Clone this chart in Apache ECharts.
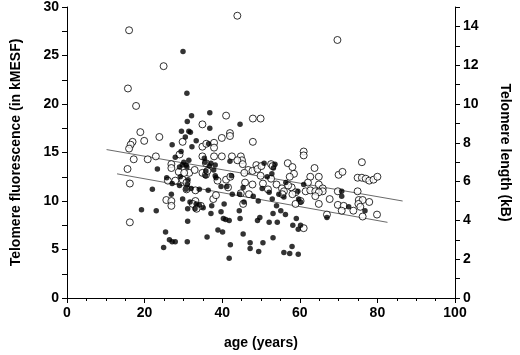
<!DOCTYPE html>
<html>
<head>
<meta charset="utf-8">
<script src="https://cdn.jsdelivr.net/npm/echarts@6/dist/echarts.min.js"></script>
<style>
  html, body { margin: 0; padding: 0; background: #fff; }
  #main { width: 520px; height: 355px; }
</style>
</head>
<body>
<div id="main"></div>
<script>
    // open circles: age (years) / telomere fluorescence (kMESF)
    var openAge = [16.0, 24.9, 15.7, 17.8, 43.9, 69.7, 18.9, 19.9, 23.8, 16.9, 16.4, 16.0,
        34.9, 41.0, 47.9, 49.9, 42.0, 42.0, 39.9, 47.9, 29.8, 34.9, 37.9, 37.9, 35.9,
        17.2, 20.8, 22.9, 15.6, 16.2, 16.2, 26.9, 26.9, 29.0, 28.8, 31.5, 32.9, 27.9,
        29.8, 26.0, 30.8, 33.1, 30.2, 30.8, 34.9, 35.8, 39.9, 37.9,
        44.8, 45.1, 43.9, 45.3, 42.5, 46.7, 47.8, 45.7, 34.9, 35.8, 36.2, 41.0, 42.1,
        38.8, 41.5, 44.8, 46.9, 45.4, 37.7, 38.4, 33.1, 32.4, 34.5, 33.4, 25.6, 26.9, 26.9,
        61.0, 61.0, 48.8, 52.6, 56.9, 58.1, 49.1, 53.0, 49.9, 52.6, 58.5, 57.4, 62.7, 62.1,
        45.9, 54.0, 55.4, 57.9, 55.9, 58.9, 61.5, 51.8, 76.0, 63.8, 70.0, 71.0, 64.9,
        74.9, 76.0, 77.0, 77.9, 79.0, 80.0, 64.9, 65.9, 65.9, 69.8, 74.9, 50.1, 47.8, 50.5,
        57.0, 62.7, 64.0, 64.9, 67.7, 69.8, 71.3, 70.8, 73.8, 75.2, 76.2, 75.1, 75.6, 77.9,
        76.2, 79.9, 60.2, 58.9, 61.0, 67.0, 64.0, 64.9, 58.1, 55.5];
    var openVal = [27.6, 23.9, 21.6, 19.8, 29.1, 26.6, 17.1, 16.2, 16.6, 16.1, 15.8, 15.4,
        17.9, 18.8, 18.5, 18.5, 17.0, 16.7, 16.5, 16.1, 16.1, 15.6, 16.0, 15.5, 15.9,
        14.3, 14.3, 14.6, 13.3, 11.8, 7.8, 13.8, 13.4, 14.8, 13.0, 12.9, 13.2, 12.1,
        12.2, 12.1, 11.9, 11.1, 12.9, 11.2, 14.6, 13.9, 14.6, 14.6,
        14.6, 14.2, 14.2, 13.8, 14.6, 13.2, 13.1, 12.9, 12.9, 12.7, 13.1, 12.2, 12.5,
        12.1, 11.4, 10.8, 10.7, 9.7, 10.2, 10.6, 10.0, 9.7, 9.5, 9.2, 10.1, 10.0, 9.5,
        15.1, 14.7, 13.7, 13.8, 13.9, 13.5, 13.3, 13.6, 12.6, 12.3, 12.8, 12.5, 12.5, 11.9,
        11.9, 11.7, 11.3, 11.4, 11.0, 10.9, 11.0, 11.2, 14.0, 13.4, 12.7, 13.0, 12.5,
        12.4, 12.4, 12.3, 12.1, 12.2, 12.5, 11.7, 11.3, 11.0, 11.0, 11.0, 13.6, 11.7, 11.8,
        11.6, 11.1, 11.0, 10.9, 10.2, 9.6, 9.5, 9.0, 9.0, 10.1, 10.1, 9.7, 9.4, 9.9,
        8.4, 8.6, 10.0, 9.7, 7.2, 8.6, 10.5, 9.7, 10.7, 10.7];

    // filled circles
    var filledAge = [29.9, 30.9, 32.1, 36.8, 31.0, 29.5, 31.4, 31.8, 36.8, 30.5, 33.3, 44.6,
        27.1, 32.2, 36.5, 29.4, 27.9, 31.4, 30.1, 29.7, 30.7, 29.0, 30.9, 23.3, 25.7, 29.2,
        31.2, 27.1, 29.0, 30.7, 22.0, 32.0, 35.6, 37.1, 38.2, 42.0, 36.7, 35.8, 37.8, 38.4,
        42.4, 31.0, 34.1, 36.4, 39.7, 41.2, 42.6, 44.5, 45.4, 48.0, 49.3, 45.6, 19.2, 23.0,
        26.9, 29.8, 31.7, 31.1, 33.0, 34.1, 35.1, 37.3, 40.5, 37.1, 39.7, 40.3, 40.9, 41.8,
        44.4, 44.6, 31.1, 25.4, 26.4, 27.1, 27.9, 24.9, 31.0, 36.1, 38.9, 40.1, 45.4, 42.1,
        41.8, 47.2, 47.2, 49.4, 35.4, 35.7, 38.2, 50.8, 53.6, 53.2, 52.8, 56.4, 51.6, 50.3,
        59.5, 61.0, 70.8, 52.1, 54.6, 55.9, 52.9, 59.7, 60.2, 54.0, 55.1, 56.3, 49.1, 49.7,
        52.1, 54.2, 59.1, 58.2, 60.2, 59.6, 53.1, 50.5, 58.0, 55.9, 57.4, 59.6, 67.0, 70.8,
        72.6, 76.8, 33.3, 53.1];
    var filledVal = [25.4, 21.1, 18.8, 19.1, 18.2, 17.2, 17.2, 17.1, 17.5, 16.6, 16.2, 17.9,
        15.8, 15.6, 15.9, 15.1, 14.5, 14.2, 14.0, 13.7, 13.7, 13.5, 13.5, 13.3, 12.4, 12.5,
        12.2, 11.8, 11.6, 11.2, 11.2, 11.3, 14.0, 13.9, 13.7, 14.1, 13.6, 13.1, 13.2, 12.4,
        12.6, 11.7, 11.2, 11.1, 11.5, 11.5, 10.7, 10.7, 11.4, 10.5, 10.0, 9.9, 9.1, 9.0,
        10.7, 10.2, 9.9, 9.2, 9.2, 9.6, 9.3, 9.5, 9.7, 8.7, 8.9, 8.2, 8.1, 8.0,
        9.0, 8.2, 7.9, 6.8, 6.0, 5.8, 5.8, 5.2, 5.8, 6.3, 7.0, 6.8, 6.6, 5.5,
        4.1, 5.7, 5.1, 4.8, 14.4, 12.6, 12.6, 13.9, 13.8, 13.4, 12.8, 11.9, 12.5, 11.3,
        11.0, 11.7, 11.0, 10.9, 10.7, 10.4, 10.2, 10.2, 9.9, 9.5, 9.0, 8.6, 8.0, 8.3,
        7.8, 7.8, 8.2, 7.5, 7.5, 7.1, 6.2, 5.7, 5.3, 4.7, 4.6, 4.5, 8.3, 10.5,
        9.4, 9.0, 9.7, 8.7];

    // regression lines (end points)
    var upperLine = [[10.2, 15.3], [86.5, 10.0]];
    var lowerLine = [[12.9, 12.8], [82.6, 7.8]];

    function pairs(xs, ys) {
        var out = [];
        for (var i = 0; i < xs.length; i++) {
            out.push([xs[i], ys[i]]);
        }
        return out;
    }

    var labelFont = { color: '#000', fontFamily: 'Liberation Sans', fontWeight: 'bold', fontSize: 14 };
    var axisLine = { show: true, lineStyle: { color: '#000', width: 1 } };

    var option = {
        animation: false,
        backgroundColor: '#fff',
        grid: { left: 67, right: 63, top: 4, bottom: 54 },
        xAxis: {
            type: 'value', min: 0, max: 100, interval: 20,
            name: 'age (years)', nameLocation: 'middle', nameGap: 38,
            nameTextStyle: labelFont,
            axisLine: axisLine,
            axisTick: { show: true, length: 5, lineStyle: { color: '#000' } },
            minorTick: { show: true, splitNumber: 4, length: 3, lineStyle: { color: '#000' } },
            axisLabel: { color: '#000', fontFamily: 'Liberation Sans', fontWeight: 'bold', fontSize: 14, margin: 8 },
            splitLine: { show: false }
        },
        yAxis: [{
            type: 'value', min: 0, max: 30, interval: 5, position: 'left',
            name: 'Telomere fluorescence (in kMESF)', nameLocation: 'middle', nameGap: 44, nameRotate: 90,
            nameTextStyle: labelFont,
            axisLine: axisLine,
            axisTick: { show: true, length: 5, lineStyle: { color: '#000' } },
            minorTick: { show: true, splitNumber: 2, length: 5, lineStyle: { color: '#000' } },
            axisLabel: { color: '#000', fontFamily: 'Liberation Sans', fontWeight: 'bold', fontSize: 14, margin: 8 },
            splitLine: { show: false }
        }, {
            type: 'value', min: 0, max: 15, interval: 2, position: 'right',
            name: 'Telomere length (kB)', nameLocation: 'middle', nameGap: 43, nameRotate: -90,
            nameTextStyle: labelFont,
            axisLine: axisLine,
            axisTick: { show: true, length: 5, lineStyle: { color: '#000' } },
            minorTick: { show: true, splitNumber: 2, length: 5, lineStyle: { color: '#000' } },
            axisLabel: { color: '#000', fontFamily: 'Liberation Sans', fontWeight: 'bold', fontSize: 14, margin: 8, showMaxLabel: false },
            splitLine: { show: false }
        }],
        series: [{
            type: 'line', data: upperLine, symbol: 'none', yAxisIndex: 0,
            lineStyle: { color: '#6a6a6a', width: 1 }, z: 1
        }, {
            type: 'line', data: lowerLine, symbol: 'none', yAxisIndex: 0,
            lineStyle: { color: '#6a6a6a', width: 1 }, z: 1
        }, {
            type: 'scatter', data: pairs(openAge, openVal), symbol: 'circle', symbolSize: 7,
            itemStyle: { color: '#fff', borderColor: '#000', borderWidth: 1 }, z: 2
        }, {
            type: 'scatter', data: pairs(filledAge, filledVal), symbol: 'circle', symbolSize: 5.5,
            itemStyle: { color: '#000' }, z: 3
        }]
    };

    var myChart = echarts.init(document.getElementById('main'));
    myChart.setOption(option);
</script>
</body>
</html>
